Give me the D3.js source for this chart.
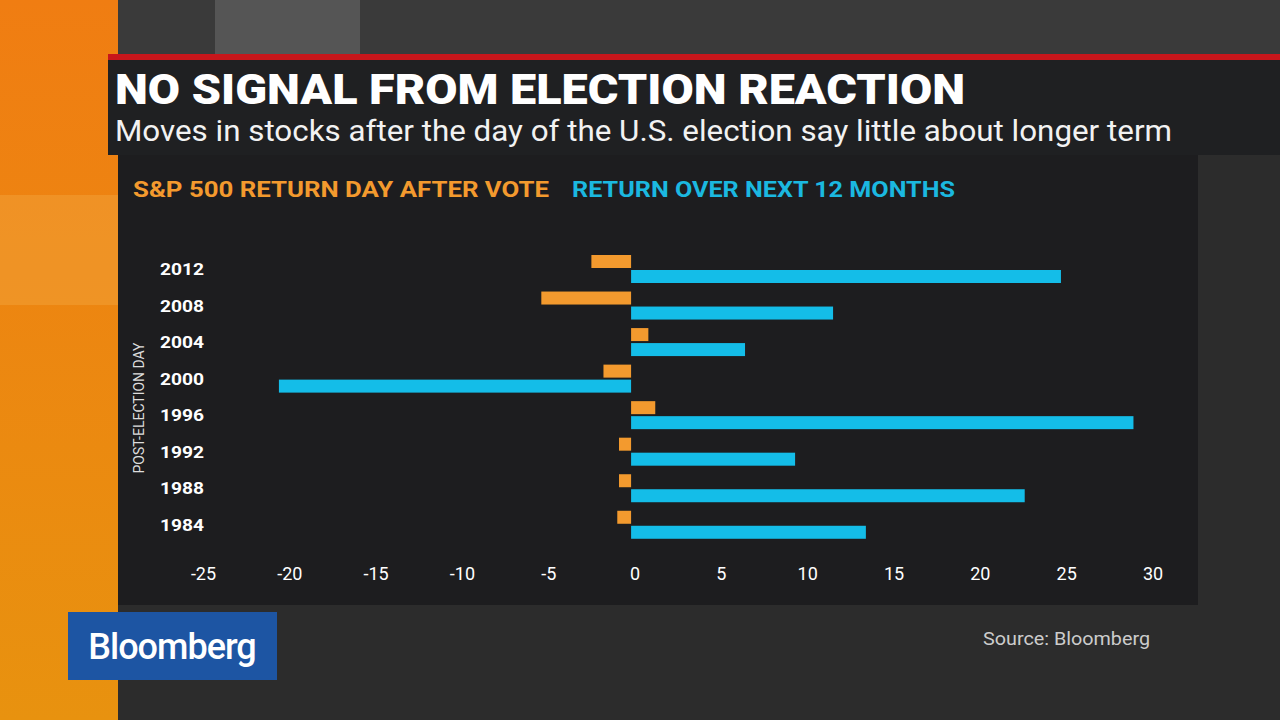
<!DOCTYPE html>
<html><head><meta charset="utf-8">
<script src="https://cdn.jsdelivr.net/npm/d3@7"></script>
<style>body{margin:0;background:#2b2b2b;overflow:hidden}</style></head>
<body><svg id="c" width="1280" height="720"></svg>
<script>
const years = ["2012","2008","2004","2000","1996","1992","1988","1984"];
const dayAfter = [-2.3, -5.2, 1.0, -1.6, 1.4, -0.7, -0.7, -0.8];
const next12 = [24.9, 11.7, 6.6, -20.4, 29.1, 9.5, 22.8, 13.6];
const ticks = [-25,-20,-15,-10,-5,0,5,10,15,20,25,30];

const svg = d3.select("#c");
const F = "Roboto, 'Liberation Sans', sans-serif";
const g0 = svg.append("defs").append("linearGradient").attr("id","og").attr("x1",0).attr("x2",0).attr("y1",0).attr("y2",1);
g0.append("stop").attr("offset",0).attr("stop-color","#f07d12");
g0.append("stop").attr("offset",1).attr("stop-color","#e8920f");
svg.append("rect").attr("width",1280).attr("height",720).attr("fill","#2c2c2c");
svg.append("rect").attr("x",0).attr("width",118).attr("height",720).attr("fill","url(#og)");
svg.append("rect").attr("x",0).attr("y",195).attr("width",118).attr("height",110).attr("fill","#f2a23a").attr("opacity",0.5);
svg.append("rect").attr("x",118).attr("y",0).attr("width",1162).attr("height",55).attr("fill","#3a3a3a");
svg.append("rect").attr("x",215).attr("y",0).attr("width",145).attr("height",55).attr("fill","#555");
svg.append("rect").attr("x",118).attr("y",155).attr("width",1080).attr("height",450).attr("fill","#1d1d1f");
svg.append("rect").attr("x",108).attr("y",55).attr("width",1172).attr("height",100).attr("fill","#1f2022");
svg.append("rect").attr("x",108).attr("y",54).attr("width",1172).attr("height",6).attr("fill","#c8161b");

svg.append("text").attr("x",115).attr("y",104).attr("fill","#fff").attr("font-family",F).attr("font-weight",900).attr("font-size",43)
  .attr("textLength",850).attr("lengthAdjust","spacingAndGlyphs").text("NO SIGNAL FROM ELECTION REACTION");
svg.append("text").attr("x",115).attr("y",141).attr("fill","#f2f2f2").attr("font-family",F).attr("font-size",29)
  .attr("textLength",1057).attr("lengthAdjust","spacingAndGlyphs").text("Moves in stocks after the day of the U.S. election say little about longer term");
svg.append("text").attr("x",133).attr("y",197).attr("fill","#f39a2e").attr("font-family",F).attr("font-weight",700).attr("font-size",22)
  .attr("textLength",416).attr("lengthAdjust","spacingAndGlyphs").text("S&P 500 RETURN DAY AFTER VOTE");
svg.append("text").attr("x",572).attr("y",197).attr("fill","#1bb8e0").attr("font-family",F).attr("font-weight",700).attr("font-size",22)
  .attr("textLength",383).attr("lengthAdjust","spacingAndGlyphs").text("RETURN OVER NEXT 12 MONTHS");

const x = d3.scaleLinear().domain([-25,30]).range([199.5,1149]);
const y = d3.scaleBand().domain(years).range([252,537]).paddingInner(0.2);
const bh = 13;
svg.selectAll(".o").data(years).join("rect").attr("fill","#f39a2e")
  .attr("x",(d,i)=>x(Math.min(0,dayAfter[i]))).attr("width",(d,i)=>Math.abs(x(dayAfter[i])-x(0)))
  .attr("y",d=>y(d)+3).attr("height",bh);
svg.selectAll(".b").data(years).join("rect").attr("fill","#14bde8")
  .attr("x",(d,i)=>x(Math.min(0,next12[i]))).attr("width",(d,i)=>Math.abs(x(next12[i])-x(0)))
  .attr("y",d=>y(d)+3+bh+2).attr("height",bh);
svg.selectAll(".yl").data(years).join("text").attr("x",204).attr("y",d=>y(d)+3+bh+7)
  .attr("text-anchor","end").attr("fill","#fff").attr("font-family",F).attr("font-weight",700).attr("font-size",17)
  .attr("textLength",44).attr("lengthAdjust","spacingAndGlyphs").text(d=>d);
svg.selectAll(".xl").data(ticks).join("text").attr("x",d=>x(d)+4).attr("y",580)
  .attr("text-anchor","middle").attr("fill","#fff").attr("font-family",F).attr("font-size",18).text(d=>d);
svg.append("text").attr("transform","translate(144,408) rotate(-90)").attr("text-anchor","middle")
  .attr("fill","#ddd").attr("font-family",F).attr("font-size",14).text("POST-ELECTION DAY");
svg.append("text").attr("x",1150).attr("y",645).attr("text-anchor","end").attr("fill","#ccc").attr("font-family",F).attr("font-size",18)
  .attr("textLength",167).attr("lengthAdjust","spacingAndGlyphs").text("Source: Bloomberg");
svg.append("rect").attr("x",68).attr("y",612).attr("width",209).attr("height",68).attr("fill","#1d55a3");
svg.append("text").attr("x",172).attr("y",659).attr("text-anchor","middle").attr("fill","#fff").attr("font-family",F).attr("font-weight",500).attr("font-size",36).attr("letter-spacing",-1).text("Bloomberg");
</script></body></html>
